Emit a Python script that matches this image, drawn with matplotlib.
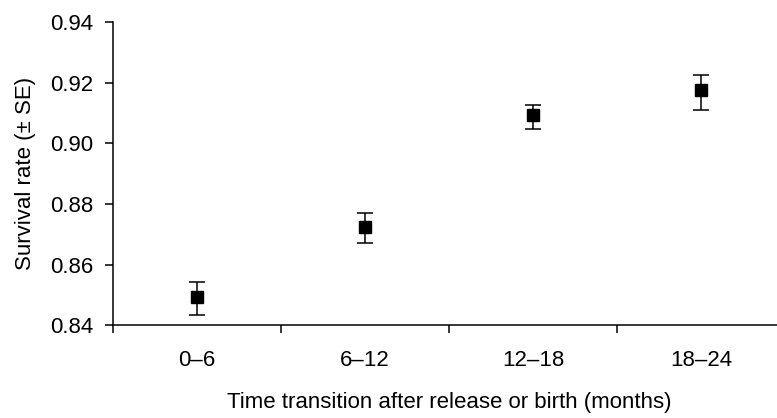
import numpy as np
import matplotlib
matplotlib.use('Agg')
import matplotlib.pyplot as plt

# data
periods = ['0–6', '6–12', '12–18', '18–24']
survival = [0.8495, 0.8724, 0.9094, 0.9175]
se_low = [0.0060, 0.0053, 0.0046, 0.0064]
se_high = [0.0049, 0.0048, 0.0033, 0.0050]

plt.rcParams['font.family'] = ['Liberation Sans', 'DejaVu Sans']
fs = 16

fig = plt.figure(figsize=[7.77, 4.18], dpi=100)
ax = fig.add_axes([0.1454, 0.2218, 0.8649, 0.7249])

x = np.arange(1, len(periods) + 1)
ax.errorbar(x, survival, yerr=[se_low, se_high], fmt='s', color='black',
            markersize=8, capsize=6, elinewidth=1.1, capthick=1.1)

ax.set_xlim(0.5, 4.5)
ax.set_ylim(0.84, 0.94)
ax.set_yticks([0.84, 0.86, 0.88, 0.90, 0.92, 0.94])
ax.set_yticklabels(['0.84', '0.86', '0.88', '0.90', '0.92', '0.94'])

# labels sit at the centres, tick marks at the category boundaries
ax.set_xticks(x)
ax.set_xticklabels(periods)
ax.set_xticks(np.arange(0.5, 4.5, 1), minor=True)
ax.tick_params(axis='x', which='major', length=0, pad=18, labelsize=fs)
ax.tick_params(axis='x', which='minor', length=6, width=1.1, direction='out')
ax.tick_params(axis='y', length=6, width=1.1, pad=8, labelsize=fs)

for s in ['top', 'right']:
    ax.spines[s].set_visible(False)
for s in ['left', 'bottom']:
    ax.spines[s].set_linewidth(1.1)
ax.spines['left'].set_bounds(0.84, 0.94)

ax.set_xlabel('Time transition after release or birth (months)', fontsize=fs, labelpad=15)
ax.set_ylabel('Survival rate (± SE)', fontsize=fs, labelpad=10)

plt.savefig('out.png', dpi=100)
